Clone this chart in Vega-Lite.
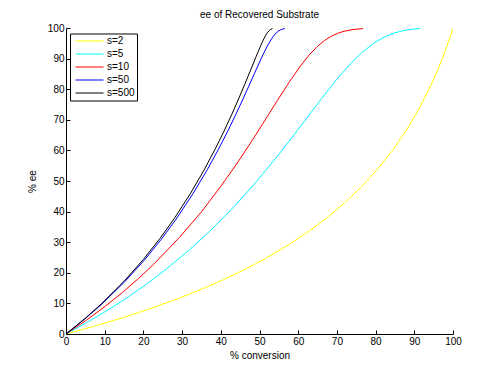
{
  "$schema": "https://vega.github.io/schema/vega-lite/v6.json",
  "autosize": "none",
  "width": 387,
  "height": 306,
  "padding": {"left": 66, "top": 28, "right": 47, "bottom": 41},
  "background": "white",
  "title": {"text": "ee of Recovered Substrate", "fontSize": 10, "fontWeight": "normal", "font": "Liberation Sans", "offset": 3, "color": "black"},
  "config": {
    "view": {"stroke": null},
    "font": "Liberation Sans"
  },
  "data": {"values": [
    {"s":"s=2","c":0,"ee":0},{"s":"s=2","c":7.38,"ee":2.56},{"s":"s=2","c":14.5,"ee":5.26},{"s":"s=2","c":21.38,"ee":8.11},{"s":"s=2","c":28,"ee":11.11},{"s":"s=2","c":34.38,"ee":14.29},{"s":"s=2","c":40.5,"ee":17.65},{"s":"s=2","c":46.38,"ee":21.21},{"s":"s=2","c":52,"ee":25},{"s":"s=2","c":57.38,"ee":29.03},{"s":"s=2","c":62.5,"ee":33.33},{"s":"s=2","c":67.38,"ee":37.93},{"s":"s=2","c":72,"ee":42.86},{"s":"s=2","c":76.38,"ee":48.15},{"s":"s=2","c":80.5,"ee":53.85},{"s":"s=2","c":84.38,"ee":60},{"s":"s=2","c":88,"ee":66.67},{"s":"s=2","c":91.38,"ee":73.91},{"s":"s=2","c":94.5,"ee":81.82},{"s":"s=2","c":96.26,"ee":86.92},{"s":"s=2","c":97.38,"ee":90.48},{"s":"s=2","c":98.46,"ee":94.17},{"s":"s=2","c":98.98,"ee":96.08},{"s":"s=2","c":99.5,"ee":98.02},{"s":"s=2","c":99.95,"ee":99.8},
    {"s":"s=5","c":0,"ee":0},{"s":"s=5","c":5.8,"ee":4.04},{"s":"s=5","c":11.23,"ee":8.15},{"s":"s=5","c":16.31,"ee":12.31},{"s":"s=5","c":21.05,"ee":16.52},{"s":"s=5","c":25.48,"ee":20.77},{"s":"s=5","c":31.58,"ee":27.16},{"s":"s=5","c":37.09,"ee":33.52},{"s":"s=5","c":43.62,"ee":41.88},{"s":"s=5","c":49.32,"ee":49.97},{"s":"s=5","c":54.33,"ee":57.64},{"s":"s=5","c":58.73,"ee":64.77},{"s":"s=5","c":62.63,"ee":71.27},{"s":"s=5","c":66.11,"ee":77.05},{"s":"s=5","c":69.98,"ee":83.23},{"s":"s=5","c":73.44,"ee":88.24},{"s":"s=5","c":76.58,"ee":92.12},{"s":"s=5","c":79.49,"ee":95.01},{"s":"s=5","c":82.24,"ee":97.04},{"s":"s=5","c":84.88,"ee":98.39},{"s":"s=5","c":87.45,"ee":99.22},{"s":"s=5","c":89.98,"ee":99.68},{"s":"s=5","c":91.49,"ee":99.83},
    {"s":"s=10","c":0,"ee":0},{"s":"s=10","c":5.28,"ee":4.52},{"s":"s=10","c":10.15,"ee":9.07},{"s":"s=10","c":14.63,"ee":13.62},{"s":"s=10","c":18.76,"ee":18.17},{"s":"s=10","c":22.56,"ee":22.68},{"s":"s=10","c":29.3,"ee":31.54},{"s":"s=10","c":35.03,"ee":39.96},{"s":"s=10","c":39.91,"ee":48.11},{"s":"s=10","c":44.07,"ee":55.54},{"s":"s=10","c":47.66,"ee":62.39},{"s":"s=10","c":50.74,"ee":68.5},{"s":"s=10","c":54.63,"ee":76.33},{"s":"s=10","c":57.84,"ee":82.62},{"s":"s=10","c":60.54,"ee":87.51},{"s":"s=10","c":62.87,"ee":91.23},{"s":"s=10","c":64.94,"ee":93.96},{"s":"s=10","c":66.83,"ee":95.94},{"s":"s=10","c":68.58,"ee":97.33},{"s":"s=10","c":70.24,"ee":98.28},{"s":"s=10","c":71.85,"ee":98.92},{"s":"s=10","c":73.41,"ee":99.34},{"s":"s=10","c":74.95,"ee":99.61},{"s":"s=10","c":76.73,"ee":99.8},
    {"s":"s=50","c":0,"ee":0},{"s":"s=50","c":4.86,"ee":4.9},{"s":"s=50","c":9.28,"ee":9.79},{"s":"s=50","c":15.16,"ee":17.04},{"s":"s=50","c":20.25,"ee":24.14},{"s":"s=50","c":24.66,"ee":31},{"s":"s=50","c":28.48,"ee":37.58},{"s":"s=50","c":32.79,"ee":45.82},{"s":"s=50","c":36.36,"ee":53.36},{"s":"s=50","c":39.31,"ee":60.17},{"s":"s=50","c":41.77,"ee":66.22},{"s":"s=50","c":43.81,"ee":71.55},{"s":"s=50","c":45.51,"ee":76.17},{"s":"s=50","c":47.25,"ee":81.04},{"s":"s=50","c":48.65,"ee":85.02},{"s":"s=50","c":49.8,"ee":88.23},{"s":"s=50","c":50.73,"ee":90.8},{"s":"s=50","c":51.51,"ee":92.84},{"s":"s=50","c":52.17,"ee":94.45},{"s":"s=50","c":53.23,"ee":96.69},{"s":"s=50","c":54.05,"ee":98.05},{"s":"s=50","c":54.74,"ee":98.86},{"s":"s=50","c":55.35,"ee":99.34},{"s":"s=50","c":55.92,"ee":99.62},{"s":"s=50","c":56.56,"ee":99.81},
    {"s":"s=500","c":0,"ee":0},{"s":"s=500","c":4.81,"ee":4.95},{"s":"s=500","c":9.17,"ee":9.88},{"s":"s=500","c":14.96,"ee":17.18},{"s":"s=500","c":19.96,"ee":24.32},{"s":"s=500","c":24.28,"ee":31.21},{"s":"s=500","c":28.01,"ee":37.79},{"s":"s=500","c":32.2,"ee":46.02},{"s":"s=500","c":35.65,"ee":53.53},{"s":"s=500","c":38.49,"ee":60.3},{"s":"s=500","c":40.84,"ee":66.31},{"s":"s=500","c":42.77,"ee":71.59},{"s":"s=500","c":44.37,"ee":76.16},{"s":"s=500","c":46.27,"ee":81.84},{"s":"s=500","c":47.71,"ee":86.28},{"s":"s=500","c":49.12,"ee":90.65},{"s":"s=500","c":50.13,"ee":93.69},{"s":"s=500","c":50.86,"ee":95.77},{"s":"s=500","c":51.53,"ee":97.45},{"s":"s=500","c":52.04,"ee":98.48},{"s":"s=500","c":52.51,"ee":99.18},{"s":"s=500","c":52.9,"ee":99.56},{"s":"s=500","c":53.36,"ee":99.81}
  ]},
  "mark": {"type": "line", "strokeWidth": 1, "clip": true},
  "encoding": {
    "x": {"field": "c", "type": "quantitative", "scale": {"domain": [0, 100], "nice": false, "zero": false},
      "axis": {"title": "% conversion", "values": [0,10,20,30,40,50,60,70,80,90,100], "grid": false, "tickSize": -4, "labelPadding": 6, "labelFontSize": 10, "labelColor": "black", "domainColor": "black", "tickColor": "black", "titleFontSize": 10, "titleFontWeight": "normal", "titleColor": "black", "titlePadding": 4, "labelFlush": false}},
    "y": {"field": "ee", "type": "quantitative", "scale": {"domain": [0, 100], "nice": false},
      "axis": {"title": "% ee", "values": [0,10,20,30,40,50,60,70,80,90,100], "grid": false, "tickSize": -4, "labelPadding": 6, "labelFontSize": 10, "labelColor": "black", "domainColor": "black", "tickColor": "black", "titleFontSize": 10, "titleFontWeight": "normal", "titleColor": "black", "titlePadding": 10, "labelFlush": false}},
    "color": {"field": "s", "type": "nominal",
      "scale": {"domain": ["s=2","s=5","s=10","s=50","s=500"], "range": ["#ffff00","#00ffff","#ff0000","#0000ff","#000000"]},
      "legend": {"title": null, "orient": "none", "legendX": 4, "legendY": 5.5, "symbolType": "stroke", "symbolSize": 784, "symbolStrokeWidth": 1, "symbolOffset": 3, "clipHeight": 11, "labelFontSize": 10, "labelColor": "black", "labelOffset": 3, "rowPadding": 2, "padding": 2, "strokeColor": "black", "fillColor": "white", "cornerRadius": 0}}
  }
}
